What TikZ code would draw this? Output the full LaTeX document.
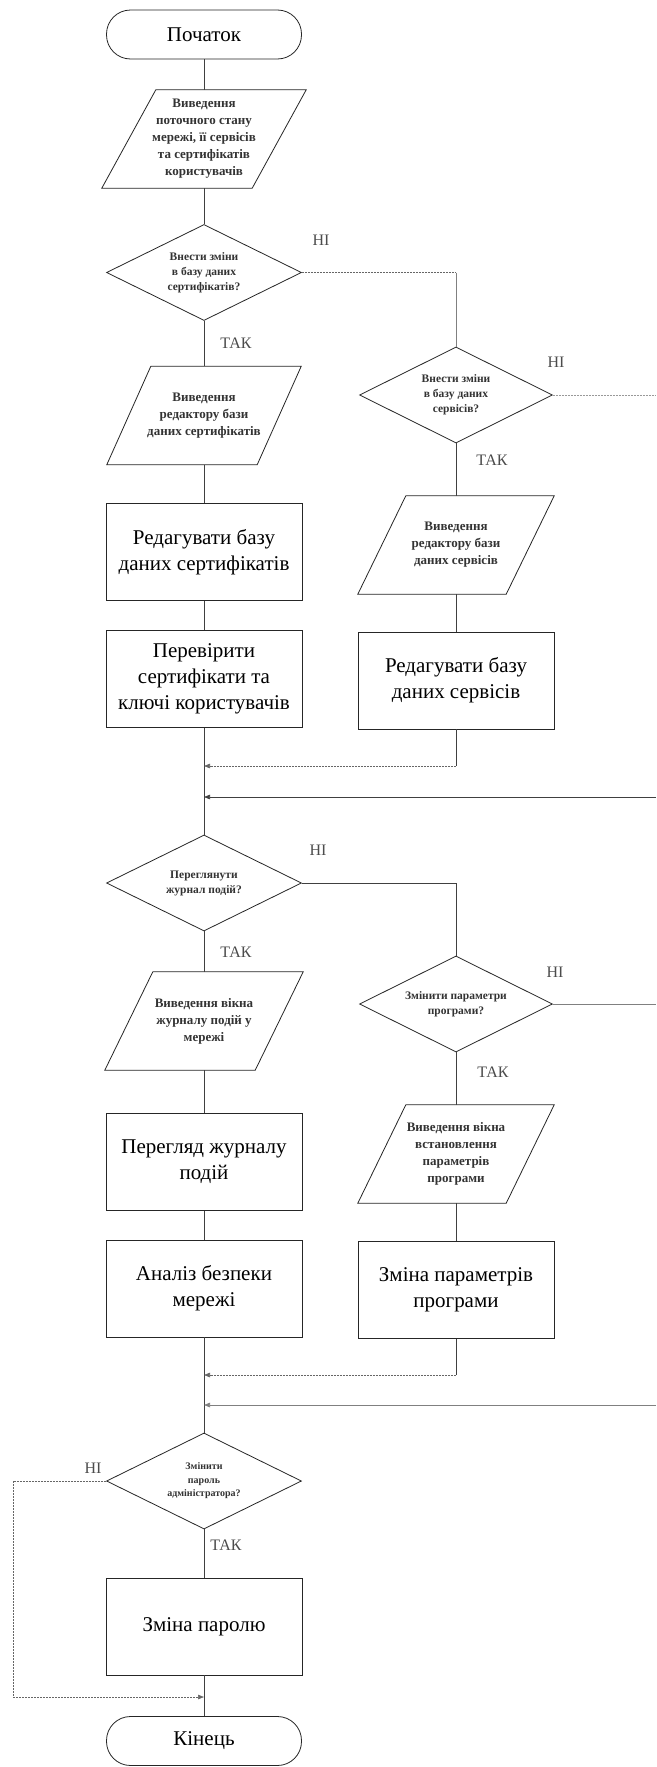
\documentclass[tikz,border=0pt]{standalone}
\usepackage{fontspec}
\setmainfont{Liberation Serif}
\usetikzlibrary{shapes.geometric,arrows.meta,calc}
\tikzset{
  boxline/.style={draw=black!85, line width=0.8pt},
  termbox/.style={boxline, rectangle, rounded corners=24pt, minimum width=195pt, minimum height=49pt, inner sep=0pt, font=\fontsize{21}{25}\selectfont},
  procbox/.style={boxline, rectangle, minimum width=196pt, minimum height=97pt, inner sep=0pt, align=center, font=\fontsize{21}{26}\selectfont},
  parbox/.style={rectangle, minimum width=150pt, minimum height=98pt, inner sep=0pt, align=center, font=\bfseries\fontsize{13}{17}\selectfont, text=black!80},
  decbox/.style={boxline, diamond, aspect=2, minimum width=195pt, minimum height=96pt, inner sep=0pt, align=center, font=\bfseries\fontsize{11.5}{15}\selectfont, text=black!80},
  conn/.style={draw=black!75, line width=0.6pt},
  dconn/.style={draw=black!60, line width=0.6pt, dash pattern=on 2pt off 1pt},
  tip/.style={-{Triangle[length=6pt,width=4.5pt]}},
  lbl/.style={font=\fontsize{16}{18}\selectfont, text=black!70, inner sep=0pt},
}
\newcommand\drawpar[2]{%
  \draw[boxline] ($(#1.north west)+(#2,0)$) -- ($(#1.north east)+(#2,0)$) -- ($(#1.south east)+(-#2,0)$) -- ($(#1.south west)+(-#2,0)$) -- cycle;}
\begin{document}
\begin{tikzpicture}[x=1pt,y=-1pt]
\useasboundingbox (0,0) rectangle (656,1767);
\fill[white] (0,0) rectangle (656,1767);

% left column
\node[termbox] (start) at (204,34.5) {Початок};
\node[parbox] (p1) at (204,139) {Виведення\\поточного стану\\мережі, її сервісів\\та сертифікатів\\користувачів};
\drawpar{p1}{27}
\node[decbox] (d1) at (204,272.5) {Внести зміни\\в базу даних\\сертифікатів?};
\node[parbox] (p2) at (204,415.5) {Виведення\\редактору бази\\даних сертифікатів};
\drawpar{p2}{22}
\node[procbox] (r1) at (204,552) {Редагувати базу\\даних сертифікатів};
\node[procbox] (r2) at (204,679) {Перевірити\\сертифікати та\\ключі користувачів};

% right column upper
\node[decbox, minimum width=193pt] (d2) at (456,395) {Внести зміни\\в базу даних\\сервісів?};
\node[parbox, minimum width=148pt] (p3) at (456,545) {Виведення\\редактору бази\\даних сервісів};
\drawpar{p3}{24}
\node[procbox] (r3) at (456,680.5) {Редагувати базу\\даних сервісів};

% middle
\node[decbox] (d3) at (204,883) {Переглянути\\журнал подій?};
\node[parbox] (p4) at (204,1021) {Виведення вікна\\журналу подій у\\мережі};
\drawpar{p4}{24}
\node[procbox] (r4) at (204,1162) {Перегляд журналу\\подій};
\node[procbox] (r5) at (204,1288.5) {Аналіз безпеки\\мережі};

\node[decbox, minimum width=193pt] (d4) at (456,1004) {Змінити параметри\\програми?};
\node[parbox, minimum width=148pt] (p5) at (456,1154) {Виведення вікна\\встановлення\\параметрів\\програми};
\drawpar{p5}{24}
\node[procbox] (r6) at (456,1290) {Зміна параметрів\\програми};

% bottom
\node[decbox, font=\bfseries\fontsize{10}{13.5}\selectfont] (d5) at (204,1481) {Змінити\\пароль\\адміністратора?};
\node[procbox] (r7) at (204,1626.5) {Зміна паролю};
\node[termbox] (end) at (204,1741) {Кінець};

% coordinates
\coordinate (c1) at (456,272.5);
\coordinate (e0) at (656,395);
\coordinate (c2) at (456,766);
\coordinate (m1) at (204,766);
\coordinate (e1) at (656,797);
\coordinate (m2) at (204,797);
\coordinate (c3) at (456,883);
\coordinate (e2) at (656,1004);
\coordinate (c4) at (456,1375);
\coordinate (m3) at (204,1375);
\coordinate (e3) at (656,1405);
\coordinate (m4) at (204,1405);
\coordinate (w1) at (13,1481);
\coordinate (w2) at (13,1697);
\coordinate (m5) at (204,1697);

% connectors
\draw[conn] (start) -- (p1);
\draw[conn] (p1) -- (d1);
\draw[conn] (d1) -- (p2);
\draw[conn] (p2) -- (r1);
\draw[conn] (r1) -- (r2);
\draw[conn] (r2) -- (d3);
\draw[dconn] (d1.east) -- (c1);
\draw[conn, draw=black!50] (c1) -- (d2.north);
\draw[dconn, draw=black!40] (d2.east) -- (e0);
\draw[conn] (d2) -- (p3);
\draw[conn] (p3) -- (r3);
\draw[conn] (r3) -- (c2);
\draw[dconn, tip] (c2) -- (m1);
\draw[conn, tip] (e1) -- (m2);

\draw[conn] (d3.east) -- (c3) -- (d4.north);
\draw[conn, draw=black!50] (d4.east) -- (e2);
\draw[conn] (d3) -- (p4);
\draw[conn] (p4) -- (r4);
\draw[conn] (r4) -- (r5);
\draw[conn] (r5) -- (d5);
\draw[conn] (d4) -- (p5);
\draw[conn] (p5) -- (r6);
\draw[conn] (r6) -- (c4);
\draw[dconn, tip] (c4) -- (m3);
\draw[conn, draw=black!50, tip] (e3) -- (m4);

\draw[conn] (d5) -- (r7);
\draw[conn] (r7) -- (end);
\draw[dconn] (d5.west) -- (w1) -- (w2);
\draw[dconn, tip] (w2) -- (m5);

% labels
\node[lbl] (n1) at (321,240) {НІ};
\node[lbl] (y1) at (236,343) {ТАК};
\node[lbl] (n2) at (556,362) {НІ};
\node[lbl] (y2) at (492,460) {ТАК};
\node[lbl] (n3) at (318,850) {НІ};
\node[lbl] (y3) at (236,952) {ТАК};
\node[lbl] (n4) at (555,972) {НІ};
\node[lbl] (y4) at (493,1072) {ТАК};
\node[lbl] (n5) at (93,1468) {НІ};
\node[lbl] (y5) at (226,1545) {ТАК};
\end{tikzpicture}
\end{document}
